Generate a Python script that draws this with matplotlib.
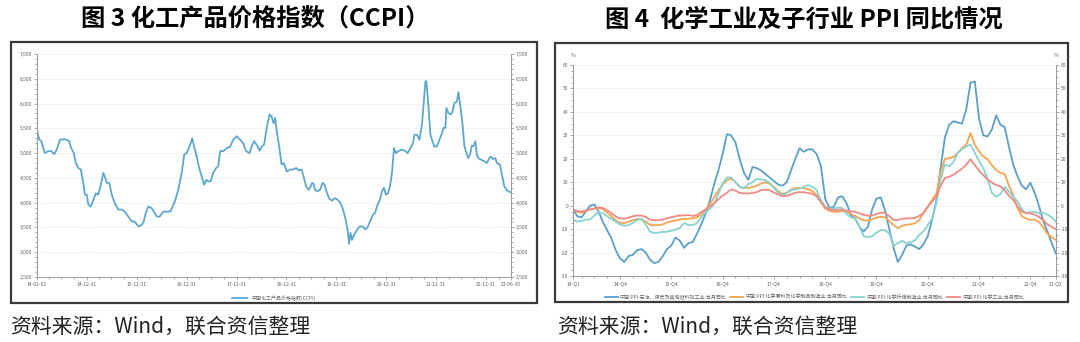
import matplotlib
matplotlib.use("Agg")
import matplotlib.pyplot as plt
import numpy as np
import pandas as pd
from matplotlib.patches import Rectangle
from matplotlib.ticker import AutoMinorLocator, FuncFormatter, FixedLocator

plt.rcParams['font.family'] = ['Noto Sans CJK SC', 'DejaVu Sans']

# ---------------- data: CCPI (decimal year, index value) ----------------
ccpi_t = [2014.00, 2014.05, 2014.09, 2014.16, 2014.23, 2014.29, 2014.35, 2014.41, 2014.46, 2014.56,
          2014.64, 2014.69, 2014.74, 2014.78, 2014.83, 2014.88, 2014.93, 2014.96, 2015.00, 2015.03,
          2015.08, 2015.13, 2015.18, 2015.23, 2015.28, 2015.33, 2015.36, 2015.40, 2015.45, 2015.50,
          2015.56, 2015.63, 2015.70, 2015.76, 2015.83, 2015.90, 2015.96, 2016.03, 2016.10, 2016.14,
          2016.18, 2016.23, 2016.30, 2016.34, 2016.40, 2016.46, 2016.53, 2016.60, 2016.67, 2016.72,
          2016.77, 2016.83, 2016.90, 2016.95, 2017.00, 2017.03, 2017.08, 2017.11, 2017.15, 2017.20,
          2017.25, 2017.30, 2017.35, 2017.39, 2017.43, 2017.48, 2017.53, 2017.59, 2017.63, 2017.67,
          2017.73, 2017.80, 2017.87, 2017.93, 2018.00, 2018.07, 2018.13, 2018.19, 2018.26, 2018.30,
          2018.35, 2018.40, 2018.46, 2018.50, 2018.55, 2018.60, 2018.66,
          2018.70, 2018.74, 2018.77, 2018.80, 2018.86, 2018.90, 2018.94, 2018.97, 2019.00,
          2019.07, 2019.14, 2019.19, 2019.24, 2019.30, 2019.34, 2019.39, 2019.44, 2019.47, 2019.51,
          2019.54, 2019.57, 2019.62, 2019.67, 2019.72, 2019.76, 2019.81, 2019.86, 2019.91, 2019.96,
          2020.01, 2020.06, 2020.11, 2020.15, 2020.19, 2020.23, 2020.25, 2020.28, 2020.31, 2020.35,
          2020.41, 2020.46, 2020.53, 2020.57, 2020.62, 2020.67, 2020.73, 2020.77, 2020.82, 2020.87,
          2020.91, 2020.95, 2020.99, 2021.03, 2021.07, 2021.11, 2021.15, 2021.19, 2021.24, 2021.31,
          2021.38, 2021.42, 2021.48, 2021.53, 2021.56, 2021.61, 2021.66, 2021.71, 2021.74, 2021.78,
          2021.80, 2021.84, 2021.88, 2021.91, 2021.96, 2022.01, 2022.06, 2022.10, 2022.14, 2022.18,
          2022.20, 2022.24, 2022.29, 2022.32, 2022.36, 2022.41, 2022.44, 2022.48, 2022.52, 2022.56,
          2022.61, 2022.64, 2022.68, 2022.71, 2022.74, 2022.78, 2022.81, 2022.84, 2022.89, 2022.95,
          2023.01, 2023.06, 2023.09, 2023.13, 2023.18, 2023.21, 2023.27, 2023.31, 2023.36, 2023.40,
          2023.45, 2023.48]
ccpi_v = [5470, 5270, 5240, 5000, 5040, 5040, 4980, 5100, 5270, 5280,
          5250, 5100, 5000, 4800, 4700, 4670, 4400, 4160, 4160, 3960,
          3920, 4050, 4190, 4160, 4360, 4600, 4530, 4400, 4400, 4160,
          3990, 3860, 3860, 3820, 3720, 3620, 3620, 3520, 3550, 3620,
          3790, 3920, 3890, 3820, 3720, 3720, 3820, 3820, 3820, 3920,
          4050, 4260, 4600, 4970, 5000, 5070, 5200, 5300, 5130, 4930,
          4700, 4530, 4360, 4460, 4430, 4430, 4600, 4700, 4730, 5040,
          5040, 5100, 5130, 5270, 5340, 5270, 5200, 5040, 5000, 5130,
          5240, 5170, 5050, 5130, 5170, 5500, 5780,
          5740, 5600, 5710, 5470, 5070, 4770, 4800, 4730, 4630,
          4670, 4670, 4700, 4650, 4670, 4530, 4330, 4260, 4300, 4400,
          4380, 4260, 4230, 4260, 4400, 4370, 4190, 4070, 4040, 4090,
          4070, 4020, 3920, 3790, 3620, 3390, 3170, 3390, 3250, 3350,
          3450, 3520, 3520, 3460, 3500, 3620, 3760, 3790, 3960, 4060,
          4230, 4300, 4160, 4190, 4330, 4600, 5100, 5000, 5040, 5070,
          5040, 5000, 5100, 5200, 5370, 5370, 5270, 5570, 5940, 6450,
          6450, 5940, 5370, 5270, 5130, 5140, 5270, 5370, 5510, 5510,
          5910, 5810, 5780, 5840, 6010, 6040, 6230, 5940, 5610, 5140,
          4970, 4900, 5000, 5150, 5140, 5240, 4970, 4900, 4870, 4840,
          4800, 4900, 4930, 4880, 4900, 4800, 4770, 4570, 4330, 4260,
          4230, 4210]
ccpi_ticks = ['2014-01-02', '2014-12-31', '2015-12-31', '2016-12-31', '2017-12-31', '2018-12-31',
              '2019-12-31', '2020-12-31', '2021-12-31', '2022-12-31', '2023-06-30']
ccpi_ticklabels = ['14-01-02', '14-12-31', '15-12-31', '16-12-31', '17-12-31', '18-12-31',
                   '19-12-31', '20-12-31', '21-12-31', '22-12-31', '23-06-30']
ccpi_label = '中国化工产品价格指数(CCPI)'

# ---------------- data: PPI YoY, monthly 2014-01 .. 2023-06 ----------------
ppi_months = pd.period_range('2014-01', '2023-06', freq='M')
ppi_oil = [-1.5, -4.5, -5, -2.5, 0, 0.5, -2.5, -7, -10.5, -14, -19, -22.5,
           -24, -21.5, -21, -19, -18.5, -20, -23, -24.5, -24, -21.5, -18.5, -17,
           -13.5, -15, -18, -16, -15.5, -12, -8, -3.5, 2, 9, 15, 22,
           30.5, 30, 27, 20, 14, 11, 16.5, 16, 15, 13.5, 12, 10.5,
           9, 8.5, 10, 15, 20, 24.5, 23, 24, 24, 22, 17, 3,
           -1, -0.5, 3.5, 4, 1, -4, -5.5, -9, -11, -9, -1.5, 3,
           3.5, -2, -10, -18, -24, -21, -17, -16.5, -17.5, -18.5, -16.5, -13,
           -6, 2, 16, 29, 34.5, 36, 35.5, 35, 41, 52.5, 53, 37,
           30, 29.5, 32.5, 38.5, 34.5, 33.5, 25, 17.5, 12.5, 8.5, 7, 9.8,
           5.5, 0, -6.5, -11, -16, -20.5]
ppi_chem_raw = [-1.9, -2.7, -3, -2.3, -1.6, -1.2, -0.9, -1.5, -3, -4.5, -6.3, -7.3,
                -7.5, -6.8, -6.2, -5.8, -5.8, -6.8, -8.2, -8.4, -8.3, -8, -7.2, -6.7,
                -6.4, -5.9, -5.6, -5.6, -5.4, -5, -3.9, -1.8, 0.5, 3.5, 6.5, 9,
                10.8, 11.5, 10.2, 8, 7.6, 7.6, 7.9, 8.5, 9.5, 10, 9.3, 8,
                6.2, 5, 5.5, 6.8, 7.6, 7.6, 7.5, 7, 6.3, 4.5, 1.5, -1.2,
                -2.2, -2.6, -2.6, -2.3, -2.6, -3.5, -4.4, -5.5, -6.2, -6.4, -5.8, -5.1,
                -4.8, -5, -6.5, -8.3, -9.6, -8.6, -8.2, -7.9, -7.5, -6.2, -2.8, -0.5,
                2.5, 5, 14, 20, 20.2, 20.8, 22.5, 24.5, 26, 31, 26, 23.2,
                21, 19.8, 17.3, 15.2, 14, 13.5, 8.5, 4.5, -1, -4.5, -5.5, -6.1,
                -5.9, -7, -9.3, -12, -13.5, -14.7]
ppi_fiber = [-6, -6.8, -6.5, -6, -5.9, -4.2, -2.7, -3.3, -4.5, -5.7, -6.9, -8,
             -8.6, -8.3, -7.4, -6.2, -5.5, -8, -11, -11.7, -11.5, -11.2, -11.1, -10.7,
             -10.2, -9.5, -7.4, -8.2, -8.3, -7.5, -5, -2.8, -1.5, 0.8, 5, 9.5,
             12, 12, 10, 8, 7.4, 9.2, 10, 11.4, 11.2, 10.8, 9.8, 7.5,
             5.6, 4.5, 5.3, 6.5, 7, 7.3, 8, 8.8, 8.1, 6.7, 2.3, -0.5,
             -1.2, -1.2, -0.8, -1, -3.5, -5, -5.4, -9, -13, -13.5, -13, -11.5,
             -10.5, -10.5, -11.8, -17.2, -16, -15, -16, -15.6, -14.8, -12.5, -11, -8.3,
             -5.5, 1, 11, 17.5, 16.8, 18.5, 22.5, 24, 25.3, 26, 22.5, 19,
             15.9, 11.5, 5.5, 3.8, 5, 8, 6, 3.8, 1.8, -1.5, -3.3, -2.7,
             -2.6, -3.2, -3, -3.8, -5, -6.9]
ppi_chemind = [-1.6, -2.3, -2.5, -2.1, -1.6, -1.2, -0.7, -1, -2, -3.2, -4.6, -5.5,
               -5.5, -5.1, -4.5, -4.2, -4.2, -4.8, -5.9, -6.2, -6.2, -5.9, -5.4, -4.9,
               -4.5, -4.2, -4.1, -4, -4.4, -4, -2.8, -1.6, -0.4, 1, 2.7, 4.3,
               5.5, 6.9, 6.4, 5.4, 5.2, 5.2, 5.4, 5.8, 6.6, 6.8, 6.6, 5.6,
               4.8, 4, 4.2, 4.8, 5.5, 5.8, 5.7, 5.5, 5, 4, 1.5, -0.7,
               -1.5, -1.9, -1.8, -1.7, -2.1, -2.4, -2.6, -3.3, -3.9, -4.3, -4.2, -3.6,
               -3, -3.1, -4.5, -6.1, -6.1, -5.6, -5.4, -5.4, -5.2, -4.3, -3.3, -0.5,
               1.7, 3.8, 8.5, 11.8, 12.3, 13.2, 14.5, 15.8, 17.5, 19.8, 17.3, 15,
               13, 11.2, 9.8, 8.8, 8.3, 6.5, 4.2, 2.5, -0.3, -2.5, -3.2, -3.3,
               -3.8, -4.8, -6.2, -8, -9, -10.1]
ppi_labels = ['中国:PPI:石油、煤炭及其他燃料加工业:当月同比',
              '中国:PPI:化学原料及化学制品制造业:当月同比',
              '中国:PPI:化学纤维制造业:当月同比',
              '中国:PPI:化学工业:当月同比']
ppi_tick_months = ['2014-01', '2014-12', '2015-12', '2016-12', '2017-12', '2018-12',
                   '2019-12', '2020-12', '2021-12', '2022-12', '2023-06']
ppi_ticklabels = ['14-Q1', '14-Q4', '15-Q4', '16-Q4', '17-Q4', '18-Q4',
                  '19-Q4', '20-Q4', '21-Q4', '22-Q4', '23-Q2']

titles = ['图 3 化工产品价格指数（CCPI）', '图 4  化学工业及子行业 PPI 同比情况']
source = '资料来源：Wind，联合资信整理'

# ---------------- figure ----------------
W, H = 1080, 342
fig = plt.figure(figsize=(W / 100, H / 100), dpi=100)
fig.patch.set_facecolor('white')


def fx(px):
    return px / W


def fy(py):
    return 1 - py / H


# outer frames
for (x0, y0, x1, y1) in [(11, 42, 537, 303), (555, 43, 1068, 302)]:
    fig.patches.append(Rectangle((fx(x0), fy(y1)), fx(x1 - x0), (y1 - y0) / H,
                                 transform=fig.transFigure, fill=False,
                                 edgecolor='#3a3a3a', linewidth=1.6))

fig.text(fx(255), fy(20), titles[0], ha='center', va='center', fontsize=17.5, fontweight='bold')
fig.text(fx(804), fy(20), titles[1], ha='center', va='center', fontsize=17.5, fontweight='bold')
fig.text(fx(10), fy(327), source, ha='left', va='center', fontsize=15, color='#222222')
fig.text(fx(557), fy(327), source, ha='left', va='center', fontsize=15, color='#222222')

TICKC = '#8a8a8a'
LBLC = '#666666'
FS = 3.6


def style_axes(ax):
    for s in ['top']:
        ax.spines[s].set_visible(False)
    for s in ['left', 'right', 'bottom']:
        ax.spines[s].set_color('#9a9a9a')
        ax.spines[s].set_linewidth(0.7)
    ax.tick_params(axis='both', which='both', colors=TICKC, labelcolor=LBLC,
                   labelsize=FS, width=0.5, pad=1)
    ax.tick_params(axis='both', which='major', length=2.5)
    ax.tick_params(axis='both', which='minor', length=1.5)
    ax.tick_params(axis='y', which='both', left=True, right=True, labelleft=True, labelright=True)
    ax.yaxis.grid(True, which='major', color='#dddddd', linestyle=(0, (1, 1.5)), linewidth=0.6)
    ax.set_axisbelow(True)


def to_decyear(s):
    d = pd.Timestamp(s)
    start = pd.Timestamp(year=d.year, month=1, day=1)
    end = pd.Timestamp(year=d.year + 1, month=1, day=1)
    return d.year + (d - start) / (end - start)


# ---- left chart ----
ax1 = fig.add_axes([fx(37), fy(277), fx(511 - 37), (277 - 54) / H])
style_axes(ax1)
ax1.plot(ccpi_t, ccpi_v, color='#5ea7cf', linewidth=1.3, label=ccpi_label)
ax1.set_xlim(to_decyear(ccpi_ticks[0]), to_decyear(ccpi_ticks[-1]))
ax1.set_ylim(2500, 7000)
ax1.set_yticks(np.arange(2500, 7001, 500))
ax1.yaxis.set_minor_locator(AutoMinorLocator(5))
ax1.yaxis.set_major_formatter(FuncFormatter(lambda v, p: f'{int(v):,}'))
tpos = [to_decyear(s) for s in ccpi_ticks]
ax1.set_xticks(tpos)
ax1.set_xticklabels(ccpi_ticklabels)
qmin = [to_decyear(s) for s in pd.date_range('2014-03-31', '2023-06-30', freq='QE').strftime('%Y-%m-%d')]
ax1.xaxis.set_minor_locator(FixedLocator(qmin))
ax1.legend(loc='upper center', bbox_to_anchor=(0.5, -0.06), frameon=False, fontsize=FS,
           handlelength=3, labelcolor=LBLC)

# ---- right chart ----
ax2 = fig.add_axes([fx(573), fy(276), fx(1056 - 573), (276 - 65) / H])
style_axes(ax2)
mi = np.arange(len(ppi_months))
colors = ['#5b9fcb', '#f7a54f', '#86d3d2', '#f08a86']
for vals, c, lab in zip([ppi_oil, ppi_chem_raw, ppi_fiber, ppi_chemind], colors, ppi_labels):
    ax2.plot(mi, vals, color=c, linewidth=1.3, label=lab)
ax2.set_xlim(0, len(ppi_months) - 1)
ax2.set_ylim(-30, 60)
ax2.set_yticks(np.arange(-30, 61, 10))
ax2.yaxis.set_minor_locator(AutoMinorLocator(4))
ax2.yaxis.set_major_formatter(FuncFormatter(lambda v, p: f'{int(v)}'))
mlist = list(ppi_months.strftime('%Y-%m'))
ax2.set_xticks([mlist.index(m) for m in ppi_tick_months])
ax2.set_xticklabels(ppi_ticklabels)
ax2.xaxis.set_minor_locator(FixedLocator([i for i, m in enumerate(mlist) if m[-2:] in ('03', '06', '09')]))
ax2.text(0, 1.035, '%', transform=ax2.transAxes, fontsize=FS, color=LBLC, ha='center', va='bottom')
ax2.text(1, 1.035, '%', transform=ax2.transAxes, fontsize=FS, color=LBLC, ha='center', va='bottom')
ax2.legend(loc='upper center', bbox_to_anchor=(0.5, -0.065), frameon=False, fontsize=FS,
           ncol=4, handlelength=2.6, columnspacing=0.7, handletextpad=0.5, labelcolor=LBLC)

fig.savefig('out.png', dpi=100, facecolor='white')
